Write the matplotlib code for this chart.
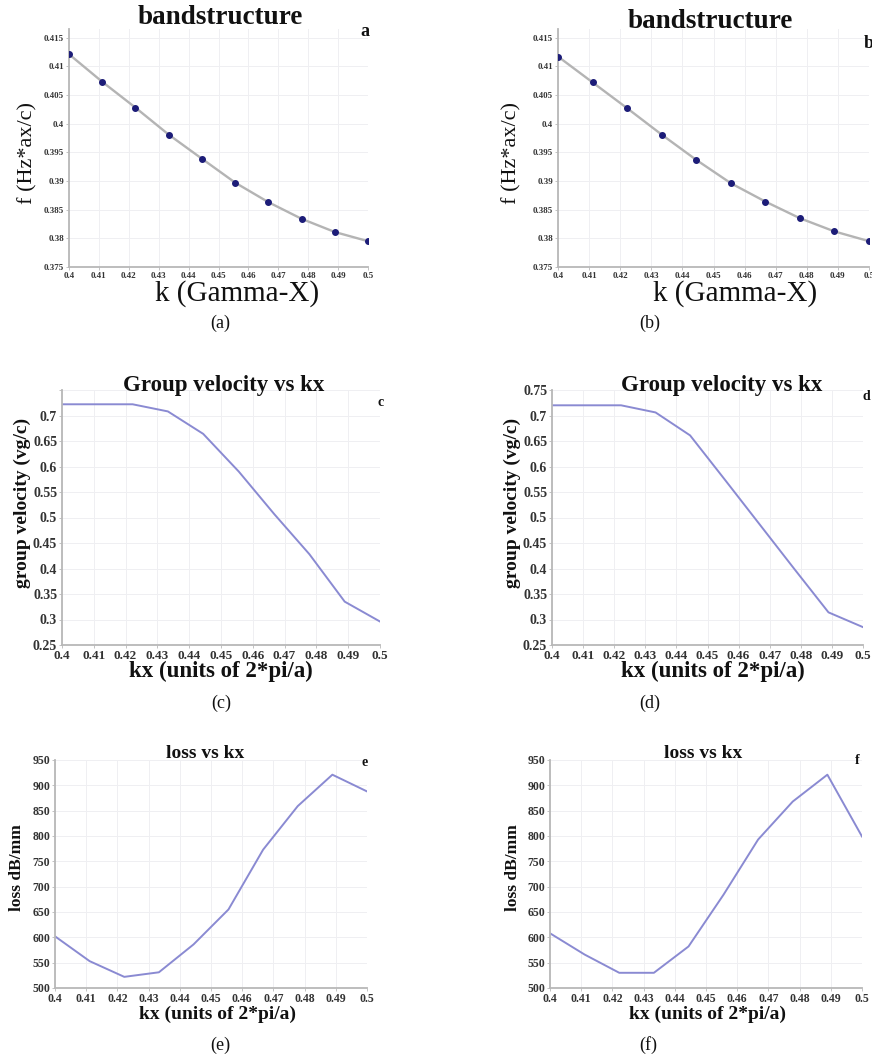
import matplotlib
matplotlib.use("Agg")
import matplotlib.pyplot as plt

W, H = 872, 1059
SERIF = ["Liberation Serif", "DejaVu Serif"]

# Wave vector samples (units of 2*pi/a) along Gamma-X
kx = [0.4, 0.4111, 0.4222, 0.4333, 0.4444, 0.4556, 0.4667, 0.4778, 0.4889, 0.5]

# Band frequencies (Hz*ax/c)
band_a = [0.4121, 0.4073, 0.4028, 0.3981, 0.3939, 0.3897, 0.3863, 0.3834, 0.3811, 0.3795]
band_b = [0.4117, 0.4072, 0.4027, 0.3981, 0.3937, 0.3896, 0.3864, 0.3835, 0.3812, 0.3795]

# Group velocity (vg/c)
vg_c = [0.722, 0.722, 0.722, 0.708, 0.664, 0.590, 0.507, 0.428, 0.335, 0.296]
vg_d = [0.720, 0.720, 0.720, 0.706, 0.661, 0.574, 0.487, 0.400, 0.314, 0.285]

# Propagation loss (dB/mm)
loss_e = [602, 553, 522, 531, 586, 655, 773, 859, 921, 888]
loss_f = [608, 566, 530, 530, 582, 684, 793, 868, 921, 799]

x_ticks = [0.4, 0.41, 0.42, 0.43, 0.44, 0.45, 0.46, 0.47, 0.48, 0.49, 0.5]
x_ticklabels = ["0.4", "0.41", "0.42", "0.43", "0.44", "0.45", "0.46", "0.47", "0.48", "0.49", "0.5"]
band_ticks = [0.375, 0.38, 0.385, 0.39, 0.395, 0.4, 0.405, 0.41, 0.415]
vg_ticks = [0.25, 0.3, 0.35, 0.4, 0.45, 0.5, 0.55, 0.6, 0.65, 0.7, 0.75]
loss_ticks = [500, 550, 600, 650, 700, 750, 800, 850, 900, 950]

LINE_BLUE = "#8a8ad2"
GRAY_LINE = "#b4b4b4"
MARKER = "#1c1c78"
SPINE = "#b8b8b8"
GRID = "#efeff2"


def fx(px):
    return px / W


def fy(py):
    return 1 - py / H


def make_axes(fig, left, right, top, bottom):
    return fig.add_axes([fx(left), fy(bottom), fx(right) - fx(left), fy(top) - fy(bottom)])


def style(ax, xlim, ylim, yticks, ylabels, xtick_fs, ytick_fs):
    ax.set_xlim(*xlim)
    ax.set_ylim(*ylim)
    ax.set_xticks(x_ticks)
    ax.set_xticklabels(x_ticklabels)
    ax.set_yticks(yticks)
    ax.set_yticklabels(ylabels)
    for lab in ax.get_xticklabels():
        lab.set_fontsize(xtick_fs)
    for lab in ax.get_yticklabels():
        lab.set_fontsize(ytick_fs)
    for lab in ax.get_xticklabels() + ax.get_yticklabels():
        lab.set_fontfamily(SERIF)
        lab.set_fontweight("bold")
        lab.set_color("#333333")
    ax.tick_params(length=2, width=0.6, color=SPINE, pad=1.5)
    for s in ("top", "right"):
        ax.spines[s].set_visible(False)
    for s in ("left", "bottom"):
        ax.spines[s].set_color(SPINE)
        ax.spines[s].set_linewidth(1.3)
    ax.grid(True, color=GRID, linewidth=0.7)
    ax.set_axisbelow(True)
    ax.patch.set_alpha(0)


def text(fig, px, py, s, size, weight="normal", rotation=0, ha="center", color="#111111"):
    fig.text(fx(px), fy(py), s, fontsize=size, fontweight=weight, rotation=rotation,
             ha=ha, va="center", family=SERIF, color=color)


def fmt(vals):
    return ["%g" % v for v in vals]


fig = plt.figure(figsize=(W / 100, H / 100), dpi=100)
fig.patch.set_facecolor("white")

# ---- (a), (b): band structure ----
for left, right, band, cx, tag, tagpos, ylab_x, xlab_x, tfy in [
    (69, 368, band_a, 220, "a", (360, 32), 28, 237, 18),
    (558, 869, band_b, 710, "b", (864, 43), 512, 735, 22),
]:
    ax = make_axes(fig, left, right, 29, 267)
    style(ax, (0.4, 0.5), (0.375, 0.4165), band_ticks, fmt(band_ticks), 6.5, 6.5)
    ax.plot(kx, band, color=GRAY_LINE, linewidth=1.7, zorder=2)
    ax.plot(kx, band, linestyle="none", marker="o", markersize=4,
            color=MARKER, zorder=3)
    text(fig, cx, tfy, "bandstructure", 19.5, "bold")
    text(fig, tagpos[0], tagpos[1], tag, 13, "bold", ha="left")
    text(fig, ylab_x, 153, "f (Hz*ax/c)", 16, rotation=90)
    text(fig, xlab_x, 294, "k (Gamma-X)", 21)

text(fig, 220, 323, "(a)", 13)
text(fig, 650, 323, "(b)", 13)

# ---- (c), (d): group velocity ----
for left, right, vg, cx, tag, tagpos, ylab_x, xlab_x, show_top in [
    (62, 380, vg_c, 224, "c", (377, 402), 22, 221, False),
    (552, 863, vg_d, 722, "d", (862, 397), 512, 713, True),
]:
    ax = make_axes(fig, left, right, 390, 645)
    labels = fmt(vg_ticks)
    if not show_top:
        labels[-1] = ""
    style(ax, (0.4, 0.5), (0.25, 0.75), vg_ticks, labels, 9.5, 10)
    ax.plot(kx, vg, color=LINE_BLUE, linewidth=1.4)
    text(fig, cx, 386, "Group velocity vs kx", 16.5, "bold")
    text(fig, tagpos[0], tagpos[1], tag, 10, "bold", ha="left")
    text(fig, ylab_x, 503, "group velocity (vg/c)", 14, "bold", rotation=90)
    text(fig, xlab_x, 671, "kx (units of 2*pi/a)", 16.5, "bold")

text(fig, 221, 703, "(c)", 13)
text(fig, 650, 703, "(d)", 13)

# ---- (e), (f): loss ----
for left, right, loss, cx, tag, tagpos, ylab_x, xlab_x in [
    (55, 367, loss_e, 205, "e", (361, 762), 17, 217),
    (550, 862, loss_f, 703, "f", (855, 760), 513, 707),
]:
    ax = make_axes(fig, left, right, 760, 988)
    style(ax, (0.4, 0.5), (500, 950), loss_ticks, fmt(loss_ticks), 8.5, 8.5)
    ax.plot(kx, loss, color=LINE_BLUE, linewidth=1.4)
    text(fig, cx, 754, "loss vs kx", 14, "bold")
    text(fig, tagpos[0], tagpos[1], tag, 10, "bold", ha="left")
    text(fig, ylab_x, 868, "loss dB/mm", 12.5, "bold", rotation=90)
    text(fig, xlab_x, 1014, "kx (units of 2*pi/a)", 14, "bold")

text(fig, 220, 1045, "(e)", 13)
text(fig, 648, 1045, "(f)", 13)

fig.savefig("out.png", dpi=100, facecolor="white")
